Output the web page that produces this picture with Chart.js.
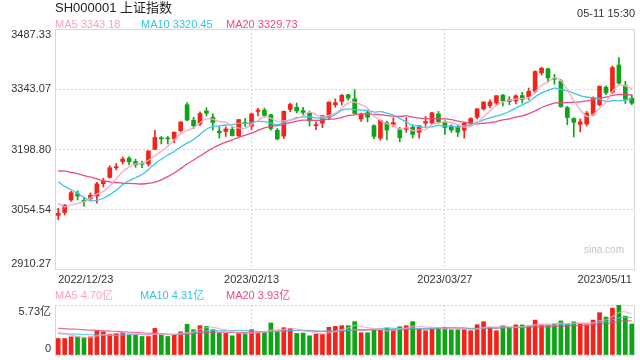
<!DOCTYPE html>
<html>
<head>
<meta charset="utf-8">
<title>SH000001 上证指数</title>
<style>
  body { margin: 0; width: 640px; height: 360px; background: #fff; position: relative; overflow: hidden;
         font-family: "Liberation Sans", Arial, "Noto Sans CJK SC", sans-serif; }
  canvas { position: absolute; left: 0; }
  #k { top: 0; }
  #v { top: 288px; }
  .t { position: absolute; white-space: nowrap; font-size: 11px; line-height: 12px; z-index: 2; }
  #title { left: 55px; top: 1px; font-size: 13px; line-height: 14px; color: #222; }
  #time { right: 5px; top: 7px; color: #333; }
  .ma5 { color: #f7a3bf; }
  .ma10 { color: #36c2e2; }
  .ma20 { color: #ef4a80; }
  #mark { right: 16px; top: 244px; font-size: 10px; color: #c4c4c4; }
</style>
</head>
<body>

  <div class="t" id="title">SH000001 上证指数</div>
  <div class="t" id="time">05-11 15:30</div>
  <div class="t ma5" style="left:55px;top:18px">MA5 3343.18</div>
  <div class="t ma10" style="left:141px;top:18px">MA10 3320.45</div>
  <div class="t ma20" style="left:226px;top:18px">MA20 3329.73</div>
  <div class="t" id="mark">sina.com</div>
  <div class="t ma5" style="left:55px;top:289px">MA5 4.70亿</div>
  <div class="t ma10" style="left:140px;top:289px">MA10 4.31亿</div>
  <div class="t ma20" style="left:226px;top:289px">MA20 3.93亿</div>

  <canvas id="k" width="640" height="288"></canvas>
  <canvas id="v" width="640" height="72"></canvas>

  <script src="https://cdn.jsdelivr.net/npm/chart.js@4/dist/chart.umd.min.js"></script>
  <script>
    // trading days shown
    const dates = [
      "2022/12/23","2022/12/26","2022/12/27","2022/12/28","2022/12/29","2022/12/30",
      "2023/01/03","2023/01/04","2023/01/05","2023/01/06","2023/01/09","2023/01/10","2023/01/11","2023/01/12","2023/01/13",
      "2023/01/16","2023/01/17","2023/01/18","2023/01/19","2023/01/20","2023/01/30","2023/01/31",
      "2023/02/01","2023/02/02","2023/02/03","2023/02/06","2023/02/07","2023/02/08","2023/02/09","2023/02/10",
      "2023/02/13","2023/02/14","2023/02/15","2023/02/16","2023/02/17","2023/02/20","2023/02/21","2023/02/22","2023/02/23","2023/02/24",
      "2023/02/27","2023/02/28","2023/03/01","2023/03/02","2023/03/03","2023/03/06","2023/03/07","2023/03/08","2023/03/09","2023/03/10",
      "2023/03/13","2023/03/14","2023/03/15","2023/03/16","2023/03/17","2023/03/20","2023/03/21","2023/03/22","2023/03/23","2023/03/24",
      "2023/03/27","2023/03/28","2023/03/29","2023/03/30","2023/03/31","2023/04/03","2023/04/04","2023/04/06","2023/04/07","2023/04/10",
      "2023/04/11","2023/04/12","2023/04/13","2023/04/14","2023/04/17","2023/04/18","2023/04/19","2023/04/20","2023/04/21","2023/04/24",
      "2023/04/25","2023/04/26","2023/04/27","2023/04/28","2023/05/04","2023/05/05","2023/05/08","2023/05/09","2023/05/10","2023/05/11"
    ];
    const shownDates = ["2022/12/23", "2023/02/13", "2023/03/27", "2023/05/11"];
    const gridDates = ["2023/02/13", "2023/03/27"];

    const opens = [3041,3048,3078,3093,3077,3081,3087,3117,3132,3155, 3170,3178,3170,3165,3164,3199,3227,3226,3224,3244,
      3306,3269,3260,3291,3276,3243,3242,3247,3232,3263, 3255,3290,3293,3282,3245,3231,3295,3300,3292,3287,
      3256,3262,3275,3306,3314,3330,3320,3272,3287,3256, 3226,3263,3259,3247,3247,3252,3240,3262,3262,3284,
      3265,3255,3253,3245,3262,3276,3296,3304,3310,3329, 3318,3315,3328,3325,3338,3382,3392,3369,3363,3299,
      3273,3259,3260,3283,3306,3348,3336,3401,3352,3322];
    const highs = [3058,3067,3099,3100,3085,3095,3120,3130,3160,3165, 3181,3182,3176,3171,3196,3245,3230,3230,3241,3265,
      3311,3276,3289,3299,3284,3253,3253,3254,3271,3273, 3286,3298,3298,3283,3249,3291,3310,3310,3300,3291,
      3265,3281,3313,3320,3331,3331,3342,3286,3293,3258, 3269,3267,3275,3252,3275,3258,3256,3278,3288,3290,
      3268,3258,3258,3264,3275,3297,3313,3318,3328,3331, 3325,3330,3336,3346,3387,3396,3394,3379,3366,3302,
      3275,3272,3290,3325,3351,3351,3399,3419,3362,3330];
    const lows = [3031,3042,3075,3078,3063,3078,3070,3109,3130,3150, 3164,3162,3156,3155,3159,3199,3212,3212,3215,3241,
      3268,3249,3256,3279,3245,3226,3230,3231,3228,3254, 3247,3279,3276,3245,3222,3225,3289,3286,3282,3255,
      3246,3251,3270,3300,3305,3317,3284,3266,3265,3225, 3221,3222,3253,3217,3240,3226,3226,3255,3259,3262,
      3235,3240,3230,3226,3257,3272,3293,3299,3306,3303, 3306,3308,3310,3318,3334,3377,3360,3355,3300,3258,
      3229,3241,3255,3280,3303,3330,3333,3355,3309,3306];
    const closes = [3045.87,3065.56,3095.57,3087.40,3073.70,3089.26,3116.51,3123.52,3155.22,3157.64,
      3176.08,3169.51,3161.84,3163.45,3195.31,3227.59,3224.41,3224.24,3240.28,3264.81,
      3269.32,3255.67,3284.92,3285.67,3263.41,3238.70,3248.09,3232.11,3270.38,3260.67,
      3284.16,3293.28,3280.49,3249.03,3224.02,3290.34,3306.52,3291.15,3287.48,3267.16,
      3258.03,3279.61,3312.35,3310.65,3328.39,3322.03,3285.10,3283.25,3276.09,3230.08,
      3268.70,3245.31,3263.31,3226.89,3250.55,3234.91,3255.65,3265.65,3286.65,3265.70,
      3251.40,3245.38,3240.06,3261.25,3272.86,3296.40,3312.56,3312.63,3327.65,3315.36,
      3313.57,3327.18,3318.36,3338.15,3385.61,3393.33,3370.13,3367.03,3301.26,3275.41,
      3264.10,3264.87,3285.88,3323.27,3350.46,3334.50,3395.00,3357.67,3319.15,3309.55];

    // moving averages as shown on the chart
    const ma5 = [3069.8,3061.6,3066.0,3069.8,3073.8,3082.4,3092.6,3098.2,3111.8,3128.6,
      3146.0,3156.6,3164.2,3165.8,3173.2,3183.6,3194.4,3206.8,3222.2,3236.2,
      3244.4,3250.8,3263.0,3272.2,3271.8,3265.8,3264.2,3253.6,3250.4,3250.0,
      3259.0,3268.0,3277.6,3273.4,3266.0,3267.2,3270.0,3272.2,3279.8,3288.4,
      3282.0,3276.6,3280.8,3285.6,3297.8,3310.6,3311.6,3305.8,3298.8,3279.2,
      3268.6,3260.6,3256.6,3246.8,3251.0,3244.2,3246.4,3247.0,3259.0,3262.0,
      3265.2,3263.0,3257.8,3252.6,3254.0,3263.0,3276.6,3291.2,3304.6,3313.0,
      3316.6,3319.4,3320.4,3322.4,3336.6,3352.4,3361.0,3370.8,3363.4,3341.2,
      3315.4,3294.4,3278.2,3282.6,3297.6,3311.8,3337.8,3352.2,3351.4,3343.2];
    const ma10 = [3121.8,3110.5,3102.5,3093.5,3084.0,3076.1,3077.1,3082.1,3090.8,3101.2,
      3114.2,3124.6,3131.2,3138.8,3150.9,3164.8,3175.5,3185.5,3194.0,3204.7,
      3214.0,3222.6,3234.9,3247.2,3254.0,3255.1,3257.5,3258.3,3261.3,3260.9,
      3262.4,3266.1,3265.6,3261.9,3258.0,3263.1,3269.0,3274.9,3276.6,3277.2,
      3274.6,3273.3,3276.5,3282.7,3293.1,3296.3,3294.1,3293.3,3292.2,3288.5,
      3289.6,3286.1,3281.2,3272.8,3265.1,3256.4,3253.5,3251.8,3252.9,3256.5,
      3254.7,3254.7,3252.4,3255.8,3258.0,3264.1,3269.8,3274.5,3278.6,3283.5,
      3289.8,3298.0,3305.8,3313.5,3324.8,3334.5,3340.2,3345.6,3342.9,3338.9,
      3333.9,3327.7,3324.5,3323.0,3319.4,3313.6,3316.1,3315.2,3317.0,3320.5];
    const ma20 = [3147.4,3146.8,3144.1,3140.9,3136.3,3133.0,3128.2,3123.8,3121.5,3119.6,
      3118.0,3117.6,3116.9,3116.2,3117.5,3120.5,3126.3,3133.8,3142.4,3153.0,
      3164.1,3173.6,3183.1,3193.0,3202.5,3210.0,3216.5,3221.9,3227.7,3232.8,
      3238.2,3244.4,3250.3,3254.6,3256.0,3259.1,3263.3,3266.6,3269.0,3269.1,
      3268.5,3269.7,3271.1,3272.3,3275.6,3279.7,3281.6,3284.1,3284.4,3282.9,
      3282.1,3279.7,3278.9,3277.8,3279.1,3276.4,3273.8,3272.6,3272.6,3272.5,
      3272.2,3270.4,3266.8,3264.3,3261.6,3260.3,3261.7,3263.2,3265.8,3270.0,
      3272.3,3276.4,3279.1,3284.7,3291.4,3299.3,3305.0,3310.1,3310.8,3311.2,
      3311.9,3312.9,3315.2,3318.3,3322.1,3324.1,3328.2,3330.4,3330.0,3329.7];

    // volume, 亿
    const volumes = [1.89,1.89,2.08,2.08,2.00,2.08,2.78,2.66,2.39,2.47, 2.59,2.28,2.28,2.12,2.12,3.05,2.28,2.12,2.28,2.66,
      3.51,2.90,3.36,3.28,2.90,2.51,2.47,2.20,2.51,2.51, 2.90,2.59,2.59,3.67,2.70,3.13,3.05,2.47,2.51,2.20,
      2.39,2.39,3.17,3.28,3.36,3.36,3.82,2.55,2.55,2.86, 2.86,3.09,2.86,3.24,3.36,3.82,2.97,2.78,2.97,3.09,
      3.17,2.90,2.90,2.90,2.78,3.47,3.82,3.17,2.78,3.36, 3.15,3.45,3.45,3.35,4.00,3.45,3.45,3.55,3.90,3.55,
      3.80,3.55,3.45,4.00,4.85,4.35,5.37,5.73,4.45,3.55];
    const vma5 = [2.60,2.42,2.25,2.12,1.99,2.03,2.20,2.32,2.38,2.48, 2.58,2.48,2.40,2.35,2.28,2.37,2.37,2.34,2.37,2.48,
      2.57,2.69,2.94,3.14,3.19,2.99,2.90,2.67,2.52,2.44, 2.52,2.54,2.62,2.85,2.89,2.94,3.03,3.00,2.77,2.67,
      2.52,2.39,2.53,2.69,2.92,3.11,3.40,3.27,3.13,3.03, 2.93,2.78,2.84,2.98,3.08,3.27,3.25,3.23,3.18,3.13,
      3.00,2.98,3.01,2.99,2.93,2.99,3.17,3.23,3.20,3.32, 3.26,3.18,3.24,3.35,3.48,3.54,3.54,3.56,3.67,3.58,
      3.65,3.67,3.65,3.67,3.93,4.04,4.40,4.86,4.95,4.69];
    const vma10 = [2.45,2.43,2.40,2.38,2.35,2.32,2.29,2.27,2.25,2.23, 2.30,2.34,2.36,2.37,2.38,2.47,2.42,2.37,2.36,2.38,
      2.47,2.53,2.64,2.76,2.83,2.78,2.80,2.81,2.83,2.82, 2.75,2.72,2.65,2.69,2.67,2.73,2.79,2.81,2.81,2.78,
      2.73,2.71,2.77,2.73,2.80,2.82,2.90,2.90,2.91,2.97, 3.02,3.09,3.06,3.06,3.06,3.10,3.02,3.04,3.08,3.10,
      3.14,3.12,3.12,3.09,3.03,2.99,3.08,3.12,3.10,3.13, 3.12,3.18,3.23,3.28,3.40,3.40,3.36,3.40,3.51,3.53,
      3.60,3.61,3.61,3.67,3.76,3.85,4.04,4.26,4.31,4.31];
    const vma20 = [3.05,3.02,2.97,2.95,2.90,2.85,2.83,2.78,2.73,2.71, 2.66,2.61,2.58,2.55,2.49,2.46,2.43,2.37,2.34,2.31,
      2.39,2.44,2.50,2.56,2.61,2.63,2.61,2.59,2.59,2.60, 2.61,2.63,2.64,2.72,2.75,2.75,2.79,2.81,2.82,2.80,
      2.74,2.72,2.71,2.71,2.73,2.77,2.84,2.86,2.86,2.88, 2.88,2.90,2.91,2.89,2.93,2.96,2.96,2.97,2.99,3.04,
      3.08,3.10,3.09,3.07,3.04,3.05,3.05,3.08,3.09,3.11, 3.13,3.15,3.18,3.18,3.21,3.20,3.22,3.26,3.30,3.33,
      3.36,3.39,3.42,3.47,3.58,3.62,3.70,3.83,3.91,3.92];

    const priceTicks = [2910.27, 3054.54, 3198.80, 3343.07, 3487.33];
    const volTicks = [0, 5.73];

    const RED = "#f2231b", GREEN = "#0ca515";
    const candleColors = closes.map((c, i) => c >= opens[i] ? RED : GREEN);
    const CLEAR = "rgba(0,0,0,0)";

    Chart.defaults.font.family = '"Liberation Sans", Arial, "Noto Sans CJK SC", sans-serif';
    Chart.defaults.font.size = 11;
    Chart.defaults.color = "#333";

    // plot frame + y labels kept inside the box
    const frame = {
      id: "frame",
      beforeDatasetsDraw(chart, args, opts) {
        const a = chart.chartArea, c = chart.ctx;
        c.save();
        c.strokeStyle = opts.color;
        c.lineWidth = 1;
        if (opts.box) {
          c.strokeRect(a.left + 0.5, a.top + 0.5, a.right - a.left - 1, a.bottom - a.top - 1);
        } else {
          c.beginPath();
          c.moveTo(a.left + 0.5, a.top); c.lineTo(a.left + 0.5, a.bottom);
          c.moveTo(a.right - 0.5, a.top); c.lineTo(a.right - 0.5, a.bottom);
          c.stroke();
        }
        c.restore();
      },
      afterDraw(chart, args, opts) {
        const s = chart.scales.y, c = chart.ctx;
        c.save();
        c.font = '11px "Liberation Sans", Arial, "Noto Sans CJK SC", sans-serif';
        c.fillStyle = "#333";
        c.textAlign = "right";
        c.textBaseline = "middle";
        s.ticks.forEach(t => {
          let y = s.getPixelForValue(t.value);
          y = Math.min(Math.max(y, s.top + opts.inset), s.bottom - opts.inset);
          c.fillText(t.value === 0 ? "0" : t.value.toFixed(2) + opts.unit, s.right - 4, y);
        });
        c.restore();
      }
    };

    function maLine(data, color, width) {
      return { type: "line", data: data, borderColor: color, borderWidth: width,
               pointRadius: 0, tension: 0.3, order: 0 };
    }
    const xGrid = c => gridDates.includes(dates[c.index]) ? "#d6d6d6" : CLEAR;

    new Chart(document.getElementById("k"), {
      type: "bar",
      data: {
        labels: dates,
        datasets: [
          maLine(ma5, "#f8a9c3", 1.3),
          maLine(ma10, "#3fc6e6", 1.3),
          maLine(ma20, "#ee4b81", 1.3),
          { data: lows.map((v, i) => [v, highs[i]]), backgroundColor: candleColors,
            barThickness: 1, grouped: false, order: 2 },
          { data: opens.map((v, i) => [v, closes[i]]), backgroundColor: candleColors,
            barThickness: 4, minBarLength: 1, grouped: false, order: 1 }
        ]
      },
      options: {
        responsive: false,
        animation: false,
        layout: { padding: { top: 29, right: 5 } },
        plugins: {
          legend: { display: false },
          tooltip: { enabled: false },
          frame: { box: true, color: "#d9d9d9", inset: 6, unit: "" }
        },
        scales: {
          x: {
            offset: true,
            grid: { offset: false, drawTicks: false, color: xGrid },
            border: { display: false, dash: [2, 2] },
            ticks: { autoSkip: false, maxRotation: 0, align: "inner", padding: 3, color: "#333",
                     callback: (v, i) => shownDates.includes(dates[i]) ? dates[i] : "" },
            afterFit: s => { s.height = 18; }
          },
          y: {
            min: priceTicks[0],
            max: priceTicks[priceTicks.length - 1],
            afterBuildTicks: s => { s.ticks = priceTicks.map(v => ({ value: v })); },
            grid: { drawTicks: false,
                    color: c => (c.index > 0 && c.index < priceTicks.length - 1) ? "#d6d6d6" : CLEAR },
            border: { display: false, dash: [2, 2] },
            ticks: { display: false },
            afterFit: s => { s.width = 55; }
          }
        }
      },
      plugins: [frame]
    });

    new Chart(document.getElementById("v"), {
      type: "bar",
      data: {
        labels: dates,
        datasets: [
          maLine(vma5, "rgba(248,160,190,0.75)", 1.3),
          maLine(vma10, "rgba(60,196,228,0.8)", 1.2),
          maLine(vma20, "rgba(236,72,128,0.8)", 1.2),
          { data: volumes, backgroundColor: candleColors, barThickness: 4, order: 1 }
        ]
      },
      options: {
        responsive: false,
        animation: false,
        layout: { padding: { top: 17, right: 5, bottom: 5 } },
        plugins: {
          legend: { display: false },
          tooltip: { enabled: false },
          frame: { box: false, color: "#d9d9d9", inset: 6.5, unit: "亿" }
        },
        scales: {
          x: {
            offset: true,
            grid: { offset: false, drawTicks: false, color: xGrid },
            border: { display: false, dash: [2, 2] },
            ticks: { display: false },
            afterFit: s => { s.height = 0; }
          },
          y: {
            min: volTicks[0],
            max: volTicks[1],
            afterBuildTicks: s => { s.ticks = volTicks.map(v => ({ value: v })); },
            grid: { drawTicks: false, color: "#cfcfcf" },
            border: { display: false, dash: [2, 2] },
            ticks: { display: false },
            afterFit: s => { s.width = 55; }
          }
        }
      },
      plugins: [frame]
    });
  </script>
</body>
</html>
